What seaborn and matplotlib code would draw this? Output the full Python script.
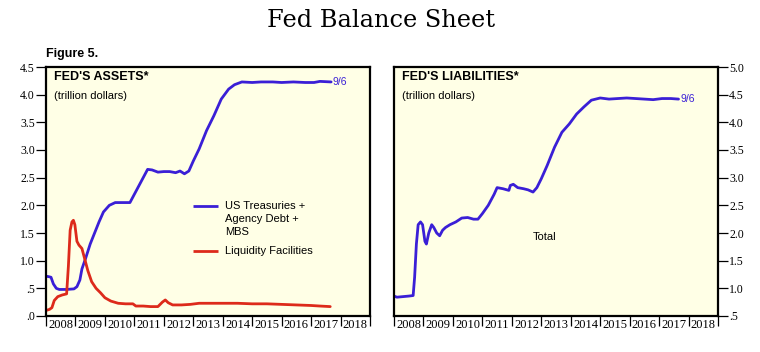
import matplotlib
matplotlib.use('Agg')
import matplotlib.pyplot as plt
import matplotlib.ticker as mticker
import pandas as pd
import seaborn as sns

# Fed's assets (trillion dollars); x in fractional years
treas_year = [2008.00, 2008.10, 2008.17, 2008.25, 2008.35, 2008.45, 2008.70, 2008.95,
              2009.05, 2009.15, 2009.22, 2009.35, 2009.50, 2009.65, 2009.80, 2009.95,
              2010.15, 2010.35, 2010.60, 2010.85, 2011.00, 2011.20, 2011.45, 2011.60,
              2011.80, 2012.00, 2012.20, 2012.40, 2012.55, 2012.70, 2012.85, 2013.00,
              2013.20, 2013.45, 2013.70, 2013.95, 2014.20, 2014.40, 2014.65, 2015.00,
              2015.30, 2015.70, 2016.00, 2016.40, 2016.80, 2017.10, 2017.30, 2017.68]
treas_val = [0.72, 0.71, 0.70, 0.58, 0.50, 0.48, 0.48, 0.49,
             0.53, 0.65, 0.85, 1.05, 1.30, 1.50, 1.70, 1.88,
             2.00, 2.05, 2.05, 2.05, 2.20, 2.40, 2.65, 2.64,
             2.60, 2.61, 2.61, 2.59, 2.62, 2.57, 2.62, 2.80,
             3.02, 3.35, 3.62, 3.92, 4.10, 4.18, 4.23, 4.22,
             4.23, 4.23, 4.22, 4.23, 4.22, 4.22, 4.24, 4.23]

liq_year = [2008.00, 2008.12, 2008.20, 2008.28, 2008.40, 2008.55, 2008.70, 2008.76,
            2008.82, 2008.88, 2008.93, 2008.98, 2009.05, 2009.12, 2009.22, 2009.32,
            2009.42, 2009.55, 2009.70, 2009.85, 2010.00, 2010.20, 2010.45, 2010.70,
            2010.95, 2011.05, 2011.30, 2011.55, 2011.80, 2011.95, 2012.05, 2012.15,
            2012.30, 2012.60, 2012.90, 2013.20, 2013.60, 2014.00, 2014.50, 2015.00,
            2015.50, 2016.00, 2016.50, 2017.00, 2017.30, 2017.65]
liq_val = [0.10, 0.12, 0.15, 0.28, 0.35, 0.38, 0.40, 0.90,
           1.55, 1.70, 1.73, 1.65, 1.35, 1.28, 1.22, 1.02,
           0.82, 0.62, 0.50, 0.42, 0.33, 0.27, 0.23, 0.22,
           0.22, 0.18, 0.18, 0.17, 0.17, 0.25, 0.29, 0.24,
           0.20, 0.20, 0.21, 0.23, 0.23, 0.23, 0.23, 0.22,
           0.22, 0.21, 0.20, 0.19, 0.18, 0.17]

# Fed's liabilities, total (trillion dollars)
liab_year = [2008.00, 2008.10, 2008.30, 2008.50, 2008.65, 2008.70, 2008.76, 2008.82,
             2008.90, 2008.97, 2009.05, 2009.10, 2009.18, 2009.28, 2009.35, 2009.45,
             2009.55, 2009.65, 2009.75, 2009.90, 2010.10, 2010.30, 2010.50, 2010.70,
             2010.85, 2011.00, 2011.20, 2011.40, 2011.50, 2011.70, 2011.90, 2011.95,
             2012.05, 2012.20, 2012.40, 2012.55, 2012.72, 2012.85, 2013.00, 2013.20,
             2013.45, 2013.70, 2013.95, 2014.20, 2014.45, 2014.70, 2015.00, 2015.30,
             2015.60, 2015.90, 2016.20, 2016.50, 2016.80, 2017.10, 2017.40, 2017.66]
liab_val = [0.86, 0.84, 0.85, 0.86, 0.87, 1.20, 1.80, 2.15,
            2.20, 2.15, 1.85, 1.80, 2.00, 2.15, 2.10, 2.00,
            1.95, 2.05, 2.10, 2.15, 2.20, 2.27, 2.28, 2.25,
            2.25, 2.35, 2.50, 2.70, 2.82, 2.80, 2.77, 2.86,
            2.88, 2.82, 2.80, 2.78, 2.74, 2.82, 2.98, 3.22,
            3.55, 3.82, 3.97, 4.15, 4.28, 4.40, 4.44, 4.42,
            4.43, 4.44, 4.43, 4.42, 4.41, 4.43, 4.43, 4.42]

years = list(range(2008, 2020))
year_labels = [str(y) for y in range(2008, 2019)]
left_ticks = [0.0, 0.5, 1.0, 1.5, 2.0, 2.5, 3.0, 3.5, 4.0, 4.5]
right_ticks = [0.5, 1.0, 1.5, 2.0, 2.5, 3.0, 3.5, 4.0, 4.5, 5.0]

blue = '#3a1fd6'
red = '#dd2a1b'
bg = '#ffffe6'

sns.set_theme(style='white')
plt.rcParams['font.family'] = ['Liberation Sans', 'DejaVu Sans']
plt.rcParams['text.color'] = 'black'
plt.rcParams['xtick.color'] = 'black'
plt.rcParams['ytick.color'] = 'black'

treas = pd.DataFrame({'year': treas_year, 'value': treas_val})
liq = pd.DataFrame({'year': liq_year, 'value': liq_val})
liab = pd.DataFrame({'year': liab_year, 'value': liab_val})

fig = plt.figure(figsize=(7.6, 3.52), dpi=100)
ax1 = fig.add_axes([46 / 760, 36 / 352, 324 / 760, 249 / 352])
ax2 = fig.add_axes([394 / 760, 36 / 352, 324 / 760, 249 / 352])

sns.lineplot(data=treas, x='year', y='value', ax=ax1, color=blue, linewidth=2.0)
sns.lineplot(data=liq, x='year', y='value', ax=ax1, color=red, linewidth=2.0)
sns.lineplot(data=liab, x='year', y='value', ax=ax2, color=blue, linewidth=2.0)


def fmt_tick(v, pos=None):
    s = f'{v:.1f}'
    return s[1:] if s.startswith('0') else s


def style_axes(ax, yticks, side):
    ax.set_facecolor(bg)
    ax.set_xlim(2008, 2019)
    ax.set_ylim(yticks[0], yticks[-1])
    ax.set_xlabel('')
    ax.set_ylabel('')
    for sp in ax.spines.values():
        sp.set_visible(True)
        sp.set_color('black')
        sp.set_linewidth(1.6)
    # year boundaries as ticks, labels centred in between
    ax.set_xticks(years)
    ax.set_xticklabels([])
    ax.set_xticks([y + 0.5 for y in years[:-1]], minor=True)
    ax.set_xticklabels(year_labels, minor=True, family='Liberation Serif', fontsize=9)
    ax.tick_params(axis='x', which='major', direction='out', length=7, width=0.9,
                   bottom=True, color='black')
    ax.tick_params(axis='x', which='minor', length=0, pad=2)
    ax.set_yticks(yticks)
    ax.yaxis.set_major_formatter(mticker.FuncFormatter(fmt_tick))
    if side == 'right':
        ax.yaxis.tick_right()
    ax.tick_params(axis='y', direction='out', length=7, width=0.9, color='black',
                   pad=1, left=(side == 'left'), right=(side == 'right'))
    for lab in ax.get_yticklabels():
        lab.set_family('Liberation Serif')
        lab.set_fontsize(8.5)
    ax.grid(False)


style_axes(ax1, left_ticks, 'left')
style_axes(ax2, right_ticks, 'right')

ax1.text(0.025, 0.985, "FED'S ASSETS*", transform=ax1.transAxes, fontsize=9,
         fontweight='bold', va='top', ha='left')
ax1.text(0.025, 0.905, '(trillion dollars)', transform=ax1.transAxes, fontsize=8,
         va='top', ha='left')
ax2.text(0.025, 0.985, "FED'S LIABILITIES*", transform=ax2.transAxes, fontsize=9,
         fontweight='bold', va='top', ha='left')
ax2.text(0.025, 0.905, '(trillion dollars)', transform=ax2.transAxes, fontsize=8,
         va='top', ha='left')

ax1.text(treas_year[-1] + 0.05, treas_val[-1], '9/6', color=blue, fontsize=7.5,
         va='center', ha='left')
ax2.text(liab_year[-1] + 0.05, liab_val[-1], '9/6', color=blue, fontsize=7.5,
         va='center', ha='left')
ax2.text(2013.1, 1.93, 'Total', fontsize=8, ha='center', va='center')

# hand-placed legend
ax1.plot([0.454, 0.531], [0.442, 0.442], transform=ax1.transAxes, color=blue,
         linewidth=2.0, solid_capstyle='butt')
ax1.plot([0.454, 0.531], [0.261, 0.261], transform=ax1.transAxes, color=red,
         linewidth=2.0, solid_capstyle='butt')
ax1.text(0.552, 0.442, 'US Treasuries +', transform=ax1.transAxes, fontsize=8,
         va='center', ha='left')
ax1.text(0.552, 0.390, 'Agency Debt +', transform=ax1.transAxes, fontsize=8,
         va='center', ha='left')
ax1.text(0.552, 0.338, 'MBS', transform=ax1.transAxes, fontsize=8,
         va='center', ha='left')
ax1.text(0.552, 0.261, 'Liquidity Facilities', transform=ax1.transAxes, fontsize=8,
         va='center', ha='left')

fig.text(46 / 760, 1 - 57 / 352, 'Figure 5.', fontsize=9, fontweight='bold',
         ha='left', va='baseline')
fig.text(0.502, 1 - 27 / 352, 'Fed Balance Sheet', family='DejaVu Serif',
         fontsize=17.3, ha='center', va='baseline')

fig.savefig('out.png', dpi=100, facecolor='white')
